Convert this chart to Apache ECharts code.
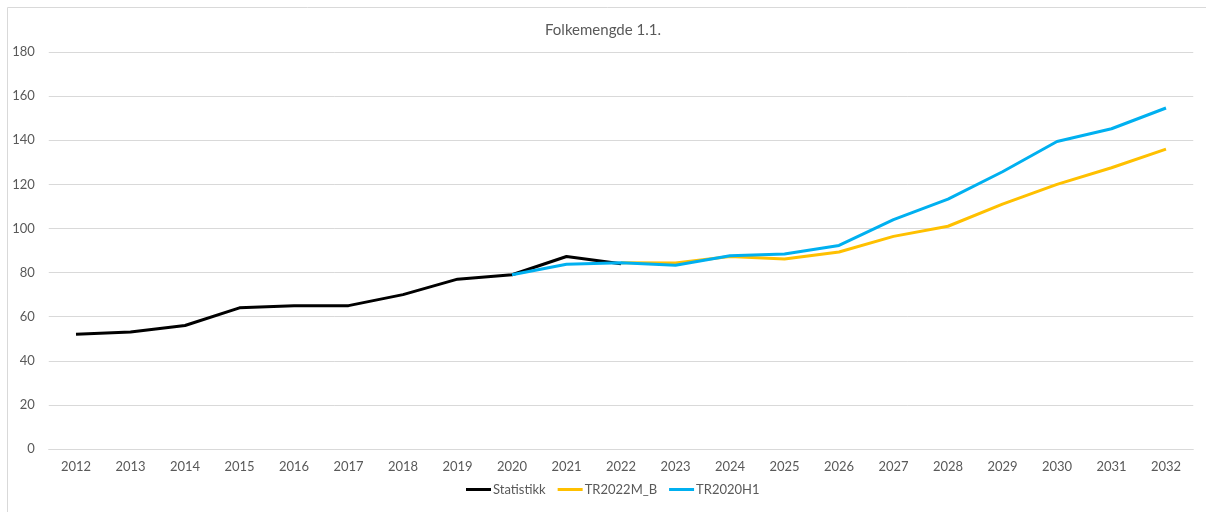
<!DOCTYPE html>
<html><head><meta charset="utf-8">
<script src="https://cdn.jsdelivr.net/npm/echarts@6/dist/echarts.min.js"></script>
<style>html,body{margin:0;padding:0;background:#fff}#c{width:1206px;height:512px}</style>
</head><body><div id="c"></div>
<script>
const years = ['2012','2013','2014','2015','2016','2017','2018','2019','2020','2021','2022','2023','2024','2025','2026','2027','2028','2029','2030','2031','2032'];
const statistikk = [52, 53, 56, 64, 65, 65, 70, 77, 79, 87.3, 84, null, null, null, null, null, null, null, null, null, null];
const tr2022mB = [null, null, null, null, null, null, null, null, null, null, 84.5, 84.3, 87.3, 86.1, 89.3, 96.4, 101, 111, 120, 127.5, 136];
const tr2020h1 = [null, null, null, null, null, null, null, null, 79, 83.8, 84.4, 83.3, 87.6, 88.4, 92.3, 104, 113.3, 125.7, 139.4, 145.2, 154.6];
const yTicks = { min: 0, max: 180, interval: 20 };
const title = 'Folkemengde 1.1.';

const font = 'Lato, "Open Sans", sans-serif';
const chart = echarts.init(document.getElementById('c'), null, { renderer: 'canvas' });
const mk = (name, data, color) => ({
  name, type: 'line', data, showSymbol: false, symbol: 'none', connectNulls: false,
  lineStyle: { color, width: 3, join: 'round' }, itemStyle: { color }, animation: false
});
chart.setOption({
  animation: false,
  graphic: [{ type: 'rect', shape: { x: 7.5, y: 7.5, width: 1210, height: 520 }, style: { fill: 'none', stroke: '#d9d9d9', lineWidth: 1 }, silent: true }],
  title: { text: title, left: 'center', top: 18, textStyle: { fontFamily: font, fontSize: 15, fontWeight: 'normal', color: '#595959' } },
  legend: {
    bottom: 11, left: 461, itemWidth: 25, itemHeight: 3, itemGap: 12, icon: 'rect',
    textStyle: { fontFamily: font, fontSize: 13, color: '#595959', padding: [0, 0, 0, -3] },
    data: ['Statistikk', 'TR2022M_B', 'TR2020H1']
  },
  grid: { left: 48.75, right: 12.75, top: 52, bottom: 63, containLabel: false },
  xAxis: {
    type: 'category', data: years, boundaryGap: true,
    axisLine: { lineStyle: { color: '#d9d9d9' } }, axisTick: { show: false },
    axisLabel: { fontFamily: font, fontSize: 13, color: '#595959', margin: 11 }
  },
  yAxis: {
    type: 'value', min: yTicks.min, max: yTicks.max, interval: yTicks.interval,
    axisLine: { show: false }, axisTick: { show: false },
    splitLine: { lineStyle: { color: '#d9d9d9', width: 1 } },
    axisLabel: { fontFamily: font, fontSize: 13, color: '#595959', margin: 14 }
  },
  series: [mk('Statistikk', statistikk, '#000000'), mk('TR2022M_B', tr2022mB, '#FFC000'), mk('TR2020H1', tr2020h1, '#00B0F0')]
});
</script></body></html>
